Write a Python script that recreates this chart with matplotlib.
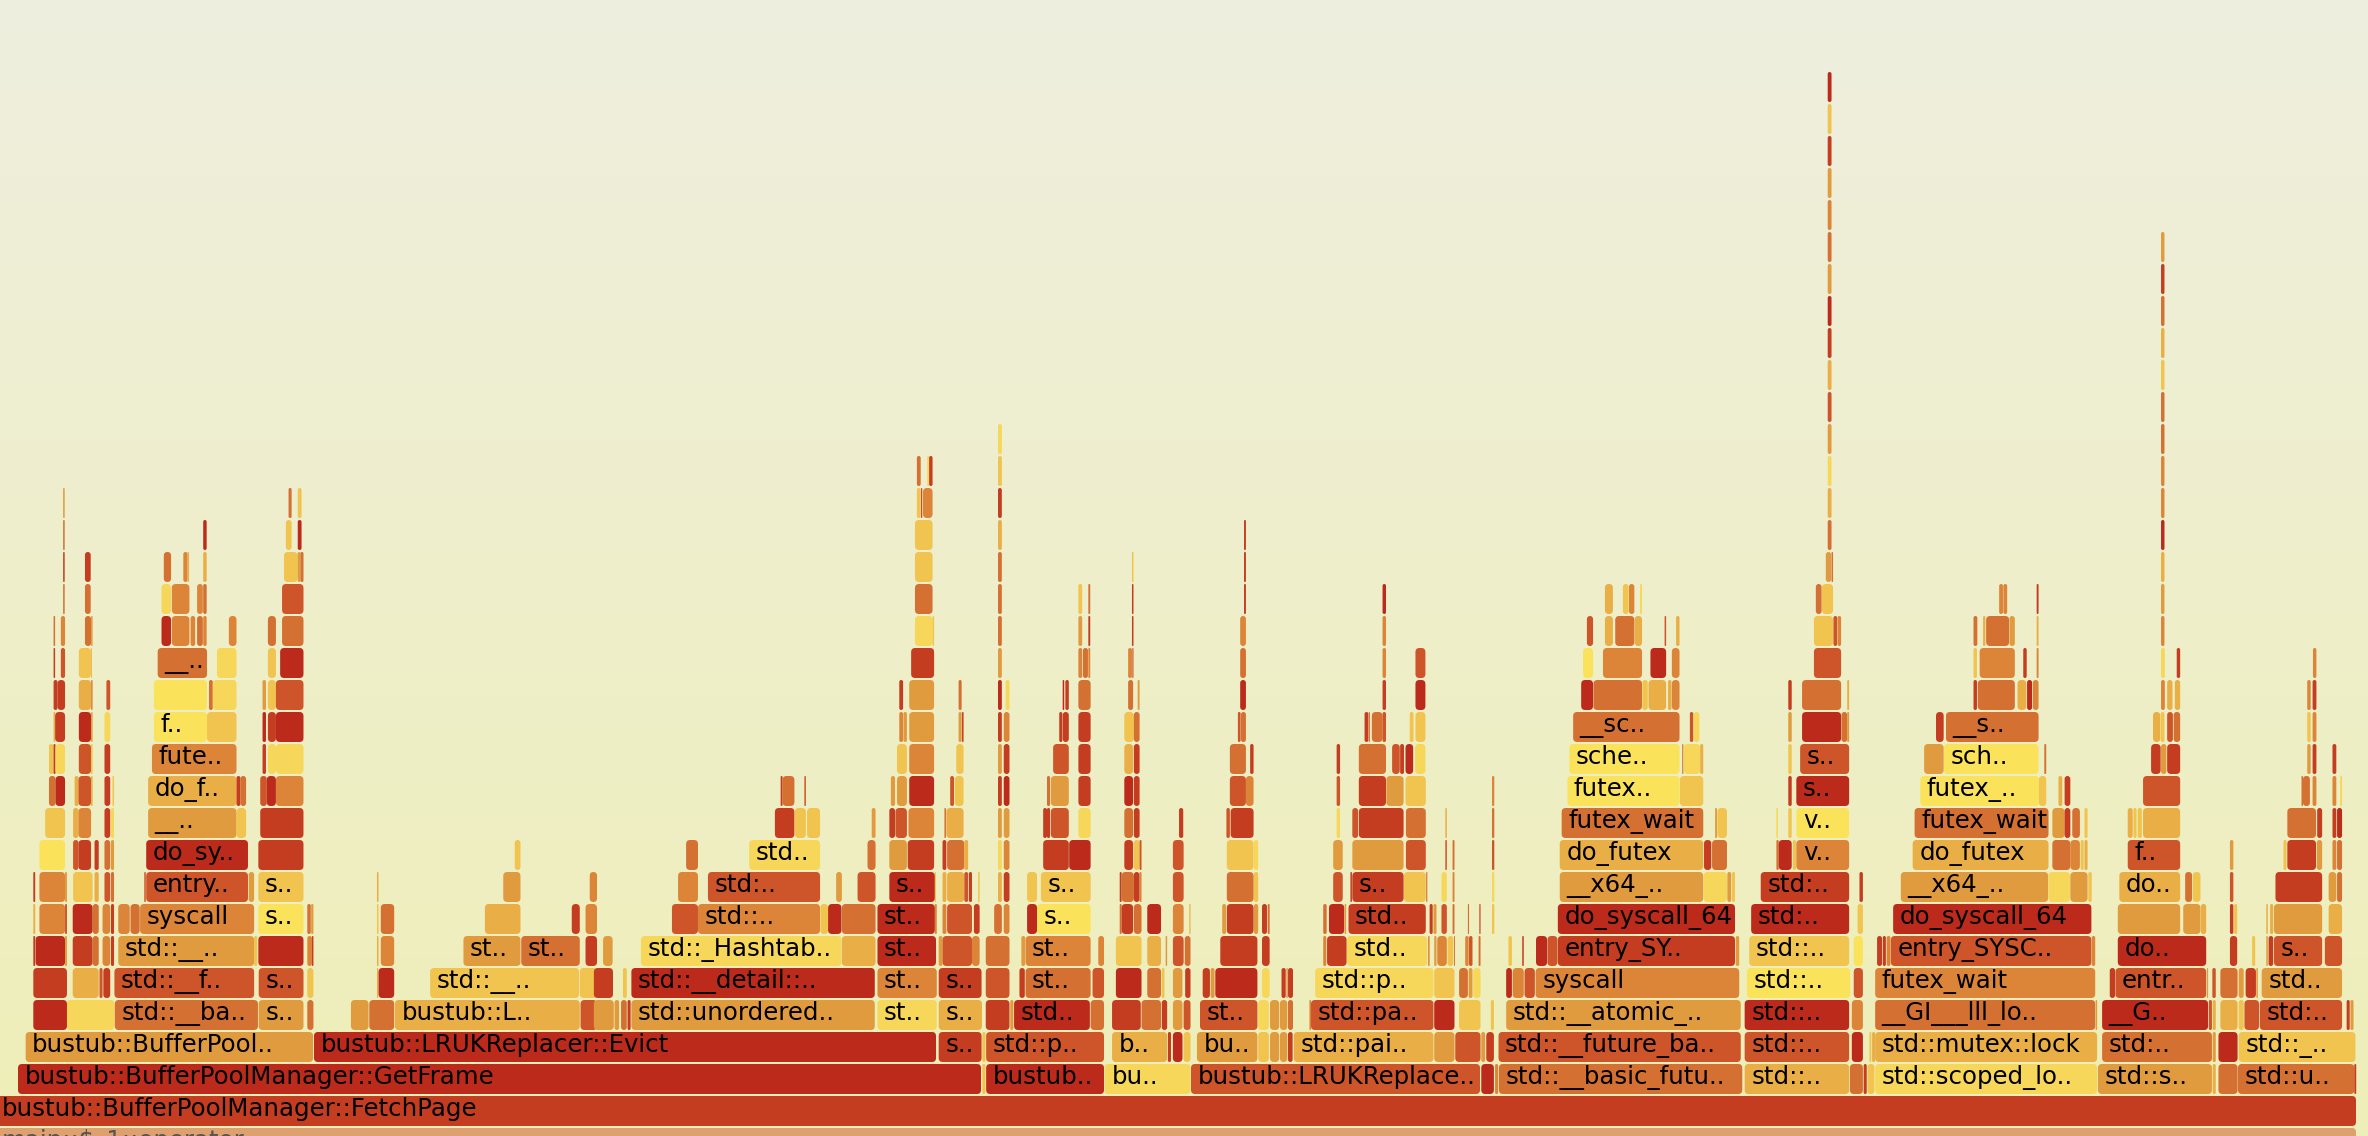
# flame graph of the buffer pool benchmark
import matplotlib
matplotlib.use("Agg")
import matplotlib.pyplot as plt
from matplotlib.patches import FancyBboxPatch
import numpy as np

WIDTH = 2368
HEIGHT = 1136
ROW_STEP = 32
ROW_H = 30
ROW_OFFSET = -22

# heat -> colour, 0 is the hottest
palette = ["#BC2A1C", "#C53D21", "#CE5429", "#D47032", "#DC8538", "#E19B3F",
           "#E9AF46", "#F0C44F", "#F6D75A", "#FAE35B"]

# frames that cross crops: level, x0, x1, heat, label
trunk = [
    (0, -5, 2356, None, "main::$_1::operator.."),
    (1, -5, 2356, 1, "bustub::BufferPoolManager::FetchPage"),
    (2, 18, 981, 0, "bustub::BufferPoolManager::GetFrame"),
    (3, 314, 936, 0, "bustub::LRUKReplacer::Evict"),
    (2, 1191, 1480, 2, "bustub::LRUKReplace.."),
]

rows_a = {
    3: [(67, 818, 5, "bustub::BufferPool..")],
    4: [(87, 175, 0), (175, 299, 8), (300, 674, 3, "std::__ba.."), (676, 793, 5, "s.."), (803, 819, 3),
        (917, 963, 5), (965, 1030, 3), (1032, 1515, 6, "bustub::L.."), (1517, 1560, 2)],
    5: [(87, 175, 1), (190, 258, 6), (260, 268, 2), (270, 288, 1), (299, 664, 2, "std::__f.."), (676, 793, 2, "s.."),
        (803, 819, 7), (985, 988, 6), (989, 1030, 0), (1124, 1513, 7, "std::__.."), (1515, 1560, 7)],
    6: [(87, 92, 1), (93, 170, 0), (170, 175, 5), (190, 242, 1), (242, 258, 3), (268, 288, 4), (290, 298, 1),
        (309, 664, 5, "std::__.."), (664, 672, 7), (675, 793, 0), (803, 815, 4), (815, 819, 1), (985, 989, 6),
        (995, 1030, 4), (1211, 1360, 5, "st.."), (1362, 1515, 3, "st.."), (1530, 1560, 1)],
    7: [(87, 92, 6), (103, 170, 4), (170, 175, 2), (190, 242, 0), (242, 258, 3), (268, 288, 4), (290, 298, 1),
        (309, 339, 4), (341, 365, 3), (366, 664, 4, "syscall"), (675, 793, 9, "s.."), (803, 812, 3), (813, 819, 5),
        (985, 989, 7), (995, 1030, 3), (1267, 1360, 6), (1494, 1515, 1), (1530, 1560, 4)],
    8: [(87, 92, 1), (103, 170, 4), (170, 175, 5), (191, 242, 7), (247, 258, 6), (273, 288, 2), (290, 298, 3),
        (377, 381, 2), (382, 648, 2, "entry.."), (650, 664, 5), (675, 793, 7, "s.."), (985, 989, 6), (1315, 1360, 5),
        (1541, 1560, 4)],
    9: [(103, 170, 9), (191, 205, 2), (205, 238, 1), (247, 258, 1), (273, 288, 3), (290, 298, 5),
        (382, 648, 0, "do_sy.."), (675, 793, 1), (1345, 1360, 7)],
    10: [(118, 170, 7), (191, 205, 6), (205, 238, 4), (273, 288, 1), (290, 298, 8), (387, 618, 5, "__.."),
         (618, 643, 7), (680, 793, 1)],
    11: [(128, 145, 3), (145, 170, 0), (195, 205, 6), (205, 238, 2), (238, 242, 6), (273, 288, 1), (294, 298, 7),
         (387, 618, 6, "do_f.."), (618, 628, 1), (628, 643, 3), (680, 697, 2), (697, 721, 0), (721, 793, 4)],
    12: [(128, 140, 7), (140, 145, 1), (145, 170, 8), (206, 238, 2), (238, 242, 7), (273, 288, 1),
         (397, 618, 4, "fute.."), (686, 695, 1), (700, 721, 8), (721, 793, 8)],
    13: [(140, 144, 6), (144, 170, 1), (206, 238, 0), (238, 242, 5), (273, 288, 8), (402, 541, 9, "f.."),
         (541, 618, 7), (686, 695, 0), (700, 721, 1), (721, 793, 0)],
    14: [(140, 150, 1), (150, 170, 1), (206, 238, 6), (238, 242, 4), (278, 288, 2), (402, 541, 9), (546, 556, 3),
         (556, 618, 8), (686, 695, 5), (700, 721, 7), (721, 793, 2)],
    15: [(140, 144, 1), (159, 170, 2), (206, 238, 7), (238, 240, 6), (412, 541, 3, "__.."), (567, 618, 8),
         (700, 721, 7), (732, 793, 0)],
    16: [(140, 144, 3), (159, 170, 4), (222, 238, 3), (238, 242, 5), (422, 447, 0), (449, 495, 4), (498, 510, 4),
         (515, 530, 3), (531, 540, 4), (598, 618, 4), (700, 721, 3), (737, 793, 3)],
    17: [(165, 169, 3), (222, 237, 3), (422, 447, 8), (449, 495, 4), (515, 530, 4), (531, 540, 3), (737, 793, 2)],
    18: [(165, 169, 1), (222, 237, 1), (428, 447, 3), (479, 490, 4), (490, 494, 6), (531, 540, 6), (742, 778, 7),
         (778, 785, 5), (785, 793, 3)],
    19: [(165, 169, 3), (531, 540, 0), (747, 762, 7), (778, 788, 0)],
    20: [(165, 169, 5), (754, 762, 3), (778, 788, 7)],
}

rows_b = {
    2: [(999, 1007, 7), (1009, 1317, 0, "bustub.."), (1319, 1543, 8, "bu..")],
    3: [(885, 997, 1, "s.."), (999, 1007, 7), (1009, 1317, 2, "std::p.."), (1338, 1482, 6, "b.."), (1484, 1492, 1),
        (1497, 1522, 0), (1525, 1543, 7)],
    4: [(-16, 36, 5), (38, 50, 5), (55, 70, 3), (72, 80, 1), (82, 718, 5, "std::unordered.."), (725, 880, 8, "st.."),
        (885, 998, 6, "s.."), (1008, 1070, 1), (1072, 1080, 5), (1082, 1280, 0, "std.."), (1282, 1317, 3),
        (1338, 1413, 1), (1415, 1466, 3), (1468, 1482, 1), (1497, 1522, 5), (1525, 1543, 2)],
    5: [(-16, 34, 1), (60, 70, 7), (82, 718, 0, "std::__detail::.."), (725, 880, 4, "st.."), (885, 997, 1, "s.."),
        (1008, 1070, 2), (1096, 1110, 1), (1112, 1282, 3, "st.."), (1287, 1317, 2), (1348, 1415, 0), (1430, 1466, 3),
        (1468, 1475, 7), (1497, 1522, 5), (1529, 1543, 1)],
    6: [(8, 33, 5), (107, 631, 8, "std::_Hashtab.."), (632, 720, 6), (725, 878, 0, "st.."), (885, 895, 5),
        (895, 972, 2), (972, 992, 4), (1008, 1070, 3), (1101, 1111, 5), (1112, 1282, 4, "st.."), (1302, 1317, 4),
        (1348, 1415, 7), (1430, 1466, 6), (1478, 1482, 5), (1497, 1525, 2), (1528, 1543, 3)],
    7: [(188, 256, 2), (256, 575, 4, "std::.."), (576, 596, 7), (596, 631, 0), (632, 720, 3), (725, 875, 0, "st.."),
        (875, 880, 4), (895, 905, 4), (907, 972, 2), (977, 992, 1), (1030, 1050, 3), (1055, 1070, 4), (1116, 1142, 0),
        (1142, 1282, 9, "s.."), (1358, 1363, 3), (1363, 1393, 1), (1395, 1415, 3), (1430, 1466, 0), (1497, 1525, 4),
        (1540, 1543, 6)],
    8: [(204, 256, 4), (282, 575, 2, "std:.."), (617, 632, 5), (673, 720, 2), (756, 875, 0, "s.."), (875, 878, 7),
        (895, 905, 6), (907, 952, 6), (952, 962, 2), (964, 972, 1), (988, 992, 7), (1040, 1050, 6), (1055, 1070, 1),
        (1116, 1142, 7), (1152, 1282, 7, "s.."), (1358, 1363, 1), (1363, 1395, 3), (1395, 1410, 1), (1410, 1415, 4),
        (1497, 1525, 2)],
    9: [(225, 256, 3), (390, 575, 8, "std.."), (699, 720, 3), (756, 802, 5), (804, 873, 1), (895, 905, 1),
        (907, 952, 3), (952, 962, 6), (1040, 1050, 8), (1055, 1070, 4), (1158, 1225, 1), (1226, 1282, 0),
        (1370, 1393, 1), (1395, 1410, 7), (1410, 1415, 2), (1497, 1525, 2)],
    10: [(457, 508, 1), (509, 538, 7), (541, 575, 7), (710, 720, 5), (756, 771, 1), (772, 802, 2), (806, 873, 4),
         (900, 904, 3), (905, 950, 6), (1040, 1050, 5), (1055, 1070, 5), (1158, 1168, 1), (1168, 1176, 1),
         (1178, 1225, 2), (1250, 1282, 8), (1370, 1393, 3), (1395, 1410, 1), (1513, 1524, 1)],
    11: [(472, 477, 1), (477, 508, 3), (534, 538, 2), (760, 771, 5), (776, 802, 5), (808, 873, 0), (915, 925, 2),
         (927, 950, 7), (1040, 1050, 1), (1055, 1070, 0), (1168, 1176, 3), (1178, 1225, 5), (1250, 1282, 1),
         (1370, 1393, 0), (1395, 1410, 1)],
    12: [(776, 802, 7), (808, 873, 4), (931, 950, 7), (1040, 1050, 5), (1055, 1070, 1), (1184, 1225, 2),
         (1250, 1282, 1), (1370, 1393, 6), (1395, 1410, 1)],
    13: [(782, 792, 4), (793, 802, 5), (808, 873, 5), (937, 945, 5), (946, 950, 1), (1040, 1050, 1), (1055, 1070, 4),
         (1200, 1208, 1), (1209, 1225, 1), (1250, 1282, 1), (1370, 1395, 7), (1395, 1410, 3)],
    14: [(782, 792, 1), (808, 873, 5), (937, 945, 3), (1040, 1050, 0), (1060, 1070, 8), (1209, 1213, 0),
         (1216, 1225, 1), (1250, 1282, 3), (1380, 1393, 3), (1405, 1410, 5)],
    15: [(813, 873, 1), (1040, 1050, 5), (1250, 1260, 4), (1262, 1275, 3), (1276, 1281, 4), (1380, 1390, 4),
         (1391, 1394, 2)],
    16: [(823, 869, 8), (869, 873, 7), (1040, 1050, 3), (1250, 1260, 5), (1276, 1281, 1), (1390, 1394, 1)],
    17: [(823, 869, 3), (1040, 1050, 3), (1250, 1260, 7), (1276, 1281, 3), (1390, 1394, 1)],
    18: [(823, 869, 7), (1040, 1050, 3), (1390, 1394, 7)],
    19: [(823, 869, 7), (1040, 1050, 6)],
    20: [(828, 838, 7), (839, 842, 1), (844, 869, 4), (1040, 1050, 1)],
    21: [(828, 838, 3), (855, 860, 8), (860, 869, 1), (1040, 1050, 7)],
    22: [(1040, 1050, 8)],
}

rows_c = {
    2: [(735, 768, 0), (771, 779, 4), (781, 1417, 3, "std::__basic_futu..")],
    3: [(-8, 150, 5, "bu.."), (152, 180, 7), (183, 207, 5), (209, 228, 5), (230, 242, 1), (245, 610, 6, "std::pai.."),
        (612, 665, 5), (667, 733, 2), (735, 745, 5), (748, 768, 1), (780, 1413, 2, "std::__future_ba..")],
    4: [(0, 150, 2, "st.."), (152, 180, 8), (183, 207, 5), (209, 228, 5), (230, 243, 3), (286, 290, 4),
        (290, 610, 2, "std::pa.."), (612, 665, 0), (677, 733, 7), (760, 768, 7), (800, 1413, 5, "std::__atomic_..")],
    5: [(7, 26, 1), (28, 38, 5), (40, 150, 0), (162, 182, 8), (213, 224, 1), (226, 229, 4), (230, 243, 1),
        (301, 610, 8, "std::p.."), (612, 665, 7), (677, 700, 3), (702, 712, 5), (714, 733, 8), (800, 815, 0),
        (817, 846, 4), (848, 875, 2), (877, 1409, 4, "syscall")],
    6: [(53, 150, 1), (162, 182, 1), (322, 330, 4), (332, 383, 1), (384, 594, 8, "std.."), (596, 600, 4),
        (612, 618, 5), (620, 645, 4), (647, 662, 7), (664, 666, 2), (693, 702, 4), (703, 712, 2), (728, 733, 3),
        (806, 815, 7), (842, 846, 1), (878, 907, 0), (908, 934, 2), (935, 1398, 1, "entry_SY.."), (1400, 1409, 5)],
    7: [(58, 68, 5), (70, 140, 1), (141, 152, 5), (162, 175, 1), (177, 182, 3), (322, 331, 3), (337, 377, 0),
        (378, 382, 5), (388, 590, 1, "std.."), (600, 608, 1), (610, 618, 5), (631, 645, 2), (660, 665, 3),
        (700, 703, 3), (730, 733, 1), (763, 769, 7), (935, 1398, 0, "do_syscall_64")],
    8: [(70, 140, 3), (141, 152, 7), (348, 373, 2), (393, 397, 1), (398, 532, 1, "s.."), (533, 590, 7), (591, 594, 3),
        (631, 645, 8), (660, 665, 4), (763, 769, 8), (940, 1315, 5, "__x64_.."), (1316, 1377, 8), (1378, 1388, 5),
        (1390, 1398, 7)],
    9: [(70, 140, 7), (141, 152, 8), (348, 373, 5), (398, 532, 5), (538, 590, 2), (641, 645, 2), (660, 665, 3),
        (763, 769, 2), (940, 1315, 6, "do_futex"), (1317, 1336, 1), (1338, 1377, 3)],
    10: [(69, 78, 2), (80, 140, 1), (357, 366, 8), (398, 413, 2), (415, 532, 1), (538, 590, 3), (641, 645, 6),
         (763, 769, 3), (945, 1315, 3, "futex_wait"), (1346, 1351, 5), (1352, 1377, 7)],
    11: [(78, 120, 2), (120, 140, 4), (357, 366, 2), (415, 486, 1), (487, 532, 5), (537, 590, 7), (763, 769, 4),
         (960, 1253, 9, "futex.."), (1254, 1315, 7)],
    12: [(78, 120, 3), (131, 140, 1), (357, 366, 1), (415, 486, 3), (502, 522, 2), (523, 533, 1), (537, 557, 0),
         (562, 589, 8), (965, 1253, 9, "sche.."), (1260, 1263, 3), (1264, 1307, 8), (1307, 1315, 6)],
    13: [(99, 106, 2), (107, 120, 3), (430, 440, 1), (441, 444, 3), (449, 477, 3), (477, 486, 2), (548, 558, 7),
         (563, 589, 7), (975, 1253, 3, "__sc.."), (1280, 1289, 2), (1290, 1305, 8)],
    14: [(105, 120, 0), (477, 486, 1), (563, 589, 0), (996, 1027, 0), (1028, 1155, 3), (1156, 1170, 7),
         (1172, 1218, 6), (1223, 1232, 6), (1233, 1253, 4)],
    15: [(105, 120, 3), (477, 486, 4), (563, 589, 2), (1001, 1027, 9), (1053, 1155, 4), (1177, 1218, 0),
         (1233, 1253, 4)],
    16: [(105, 120, 4), (477, 486, 4), (1011, 1027, 2), (1058, 1079, 6), (1085, 1135, 3), (1136, 1155, 6),
         (1214, 1218, 2), (1244, 1253, 6)],
    17: [(115, 120, 1), (477, 486, 0), (1058, 1079, 6), (1105, 1120, 7), (1121, 1135, 4), (1150, 1155, 8)],
    18: [(115, 120, 1)],
    19: [(115, 120, 1)],
}

rows_d = {
    2: [(-61, 212, 6, "std::.."), (214, 248, 3), (250, 258, 1), (260, 278, 7), (280, 860, 8, "std::scoped_lo.."),
        (862, 1160, 5, "std::s.."), (1162, 1170, 6), (1177, 1227, 3), (1228, 1532, 3, "std::u.."), (1532, 1537, 1)],
    3: [(-61, 212, 2, "std::.."), (219, 248, 0), (265, 270, 7), (272, 280, 6), (280, 860, 6, "std::mutex::lock"),
        (873, 1160, 3, "std:.."), (1162, 1170, 5), (1177, 1227, 0), (1230, 1535, 7, "std::_..")],
    4: [(-61, 212, 0, "std::.."), (219, 248, 4), (280, 855, 3, "__GI___lll_lo.."), (856, 860, 5),
        (873, 1150, 0, "__G.."), (1152, 1160, 2), (1162, 1170, 6), (1182, 1227, 6), (1230, 1243, 7), (1245, 1283, 2),
        (1285, 1500, 2, "std:.."), (1512, 1520, 1), (1522, 1530, 5)],
    5: [(-55, 215, 9, "std::.."), (224, 248, 2), (280, 855, 4, "futex_wait"), (893, 907, 1), (908, 1145, 2, "entr.."),
        (1147, 1150, 5), (1161, 1170, 2), (1182, 1227, 3), (1230, 1243, 5), (1248, 1275, 1), (1276, 1280, 5),
        (1290, 1500, 5, "std..")],
    6: [(-49, 212, 7, "std::.."), (224, 248, 9), (285, 298, 1), (300, 308, 1), (310, 320, 4),
        (321, 845, 2, "entry_SYSC.."), (846, 855, 4), (914, 1145, 0, "do.."), (1207, 1226, 1), (1265, 1273, 7),
        (1302, 1306, 5), (1308, 1320, 1), (1322, 1448, 2, "s.."), (1455, 1500, 2)],
    7: [(-44, 212, 0, "std:.."), (234, 248, 7), (327, 845, 0, "do_syscall_64"), (914, 1077, 5), (1085, 1130, 5),
        (1131, 1145, 6), (1207, 1216, 1), (1218, 1226, 7), (1302, 1306, 6), (1312, 1320, 6), (1322, 1448, 5),
        (1465, 1500, 6)],
    8: [(-19, 212, 1, "std:.."), (239, 248, 1), (347, 732, 5, "__x64_.."), (733, 789, 8), (790, 835, 5), (837, 846, 7),
        (918, 1077, 6, "do.."), (1090, 1108, 3), (1110, 1130, 7), (1207, 1216, 2), (1326, 1448, 1), (1465, 1485, 5),
        (1487, 1500, 3)],
    9: [(22, 28, 3), (28, 62, 0), (65, 73, 7), (74, 212, 4, "v.."), (378, 733, 6, "do_futex"), (743, 790, 3),
        (790, 815, 4), (817, 825, 7), (827, 835, 6), (940, 1077, 2, "f.."), (1207, 1216, 5), (1347, 1355, 7),
        (1357, 1432, 1), (1434, 1448, 5), (1475, 1485, 4), (1487, 1500, 3)],
    10: [(22, 26, 8), (53, 62, 7), (74, 212, 9, "v.."), (383, 733, 3, "futex_wait"), (743, 775, 5), (775, 790, 1),
         (795, 815, 3), (827, 835, 7), (940, 953, 6), (955, 963, 7), (966, 977, 7), (980, 1077, 6), (1357, 1432, 3),
         (1435, 1448, 1), (1475, 1485, 1), (1487, 1500, 0)],
    11: [(53, 62, 1), (74, 212, 0, "s.."), (398, 708, 9, "futex_.."), (708, 727, 7), (759, 769, 6), (775, 790, 1),
         (980, 1077, 2), (1394, 1398, 3), (1398, 1416, 3), (1423, 1433, 4), (1475, 1485, 4), (1495, 1500, 8)],
    12: [(53, 62, 7), (84, 212, 2, "s.."), (408, 459, 5), (460, 707, 9, "sch.."), (722, 727, 3), (1001, 1026, 1),
         (1027, 1041, 5), (1043, 1077, 1), (1409, 1418, 5), (1423, 1433, 1), (1475, 1485, 1)],
    13: [(53, 62, 5), (89, 191, 0), (192, 207, 3), (207, 212, 5), (439, 459, 1), (465, 707, 3, "__s.."),
         (1006, 1025, 6), (1026, 1036, 7), (1043, 1058, 2), (1060, 1077, 3), (1409, 1418, 7), (1423, 1433, 4)],
    14: [(53, 62, 1), (89, 191, 3), (207, 212, 6), (537, 546, 1), (548, 645, 3), (652, 675, 6), (677, 690, 0),
         (692, 707, 4), (1027, 1037, 4), (1043, 1057, 6), (1063, 1077, 6), (1409, 1418, 4), (1423, 1433, 1)],
    15: [(120, 191, 2), (537, 546, 7), (553, 645, 4), (667, 676, 1), (702, 707, 4), (1027, 1037, 8), (1068, 1077, 1),
         (1424, 1433, 4)],
    16: [(120, 170, 7), (171, 181, 2), (182, 191, 4), (537, 547, 3), (562, 568, 6), (570, 630, 3), (631, 645, 5),
         (702, 707, 6), (1027, 1036, 4)],
    17: [(125, 140, 3), (141, 170, 7), (604, 614, 4), (615, 625, 4), (702, 707, 1), (1027, 1036, 5)],
    18: [(151, 165, 5), (166, 170, 3), (1027, 1036, 6)],
    19: [(156, 166, 3), (1027, 1036, 0)],
    20: [(156, 166, 6), (1027, 1036, 4)],
    21: [(156, 166, 8), (1027, 1036, 4)],
    22: [(156, 166, 5), (1027, 1036, 3)],
    23: [(156, 166, 2), (1027, 1036, 3)],
    24: [(156, 166, 6), (1027, 1036, 7)],
    25: [(156, 166, 1), (1027, 1036, 6)],
    26: [(156, 166, 0), (1027, 1036, 3)],
    27: [(156, 166, 5), (1027, 1036, 1)],
    28: [(156, 166, 3), (1027, 1036, 5)],
    29: [(156, 166, 4)],
    30: [(156, 166, 5)],
    31: [(156, 166, 1)],
    32: [(156, 166, 7)],
    33: [(156, 166, 0)],
}

crop_scale = 2.613
crop_origin = {"a": 0, "b": 600, "c": 1200, "d": 1768}
crops = {"a": rows_a, "b": rows_b, "c": rows_c, "d": rows_d}


def draw_frame(ax, level, x0, x1, colour, label=None, text_colour="black"):
    y = level * ROW_STEP + ROW_OFFSET
    w = x1 - x0
    r = min(4.0, w / 2.0)
    ax.add_patch(FancyBboxPatch((x0, y), w, ROW_H, boxstyle=f"round,pad=0,rounding_size={r}",
                                facecolor=colour, edgecolor="none", linewidth=0))
    if label:
        ax.text(x0 + 6.5, y + ROW_H / 2 + 4.5, label, fontsize=17.6, family="DejaVu Sans",
                color=text_colour, va="center_baseline", ha="left", clip_on=True)


fig = plt.figure(figsize=(WIDTH / 100, HEIGHT / 100), dpi=100)
ax = fig.add_axes([0, 0, 1, 1])
ax.set_xlim(0, WIDTH)
ax.set_ylim(0, HEIGHT)
ax.axis("off")

top = np.array([0xEE, 0xEE, 0xDF]) / 255
bottom = np.array([0xEE, 0xEE, 0xB8]) / 255
t = np.linspace(0, 1, 256)[:, None, None]
ax.imshow(top + (bottom - top) * t, extent=(0, WIDTH, 0, HEIGHT), aspect="auto", zorder=0, origin="upper")

for level, x0, x1, heat, label in trunk:
    if heat is None:
        draw_frame(ax, level, x0, x1, "#DEA06E", label, "#555555")
    else:
        draw_frame(ax, level, x0, x1, palette[heat], label)

for key, rows in crops.items():
    for level, spans in rows.items():
        for span in spans:
            label = span[3] if len(span) > 3 else None
            x0 = crop_origin[key] + span[0] / crop_scale
            x1 = crop_origin[key] + span[1] / crop_scale
            draw_frame(ax, level, x0, x1, palette[span[2]], label)

fig.savefig("out.png", dpi=100)
